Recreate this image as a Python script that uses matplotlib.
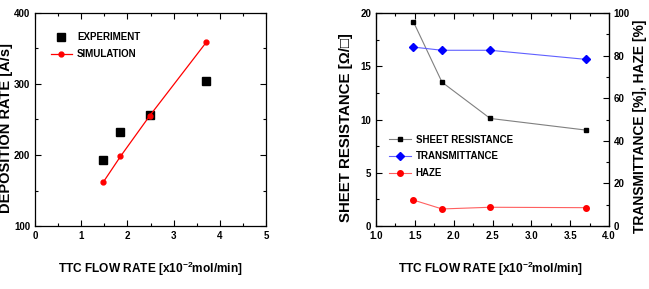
import matplotlib
matplotlib.use("Agg")
import matplotlib.pyplot as plt
from matplotlib.ticker import MultipleLocator, FormatStrFormatter
from matplotlib.lines import Line2D

plt.rcParams['font.family'] = ['Liberation Sans', 'DejaVu Sans']
plt.rcParams['font.weight'] = 'bold'
plt.rcParams['mathtext.fontset'] = 'custom'
plt.rcParams['mathtext.bf'] = 'Liberation Sans:bold'
plt.rcParams['mathtext.rm'] = 'Liberation Sans:bold'
plt.rcParams['mathtext.default'] = 'bf'

# Left panel data
flow = [1.48, 1.85, 2.48, 3.71]
exp_rate = [193, 232, 256, 304]
sim_rate = [162, 198, 255, 359]

# Right panel data
flow2 = [1.48, 1.85, 2.47, 3.71]
sheet_res = [19.2, 13.5, 10.1, 9.0]
transmittance = [84.0, 82.5, 82.5, 78.2]
haze = [12.2, 8.0, 8.8, 8.6]

xlabel = "TTC FLOW RATE [x10$^{-2}$mol/min]"

fig = plt.figure(figsize=(6.49, 2.89), dpi=100)
ax1 = fig.add_axes([35/649, 1-226/289, 231/649, 213/289])
ax2 = fig.add_axes([376/649, 1-226/289, 233/649, 213/289])

def style(ax, right=True):
    ax.tick_params(which='both', direction='in', top=True, right=right, labelsize=7, width=0.8)
    ax.tick_params(which='major', length=4)
    ax.tick_params(which='minor', length=2)
    for lab in ax.get_xticklabels() + ax.get_yticklabels():
        lab.set_fontweight('bold')
    for s in ax.spines.values():
        s.set_linewidth(0.9)

LBL = 8.6

# Left
ax1.plot(flow, sim_rate, color='red', lw=0.9, marker='o', ms=3.5, zorder=3)
ax1.plot(flow, exp_rate, ls='none', marker='s', ms=6, color='black', zorder=2)
ax1.set_xlim(0, 5)
ax1.set_ylim(100, 400)
ax1.xaxis.set_major_locator(MultipleLocator(1))
ax1.xaxis.set_minor_locator(MultipleLocator(0.5))
ax1.yaxis.set_major_locator(MultipleLocator(100))
ax1.yaxis.set_minor_locator(MultipleLocator(50))
style(ax1)
ax1.set_xlabel(xlabel, fontsize=LBL, fontweight='bold')
ax1.xaxis.set_label_coords(0.5, -0.16)
ax1.set_ylabel("DEPOSITION RATE [A/s]", fontsize=10.5, fontweight='bold')
ax1.yaxis.set_label_coords(-0.095, 0.46)
h1 = [Line2D([], [], ls='none', marker='s', ms=6, color='black'),
      Line2D([], [], color='red', lw=0.9, marker='o', ms=3.5)]
ax1.legend(h1, ['EXPERIMENT', 'SIMULATION'], loc='upper left', bbox_to_anchor=(0.03, 0.95),
           frameon=False, prop={'size': 7, 'weight': 'bold'}, handlelength=2.2,
           handletextpad=0.5, labelspacing=0.7)

# Right
ax2.plot(flow2, sheet_res, color='gray', lw=0.8, marker='s', ms=3.5, mfc='black', mec='black', zorder=3)
ax2.set_xlim(1.0, 4.0)
ax2.set_ylim(0, 20)
ax2.xaxis.set_major_locator(MultipleLocator(0.5))
ax2.xaxis.set_minor_locator(MultipleLocator(0.25))
ax2.yaxis.set_major_locator(MultipleLocator(5))
ax2.yaxis.set_minor_locator(MultipleLocator(2.5))
ax2.xaxis.set_major_formatter(FormatStrFormatter('%.1f'))
style(ax2, right=False)
ax2.set_xlabel(xlabel, fontsize=LBL, fontweight='bold')
ax2.xaxis.set_label_coords(0.49, -0.16)
ax2.set_ylabel("SHEET RESISTANCE [Ω/□]", fontsize=10.8, fontweight='bold',
               family=['Liberation Sans', 'DejaVu Sans'])
ax2.yaxis.set_label_coords(-0.10, 0.46)

ax3 = ax2.twinx()
ax3.plot(flow2, transmittance, color='#6060ff', lw=0.8, marker='D', ms=4, mfc='blue', mec='blue', zorder=3)
ax3.plot(flow2, haze, color='#ff6060', lw=0.8, marker='o', ms=4, mfc='red', mec='red', zorder=3)
ax3.set_ylim(0, 100)
ax3.yaxis.set_major_locator(MultipleLocator(20))
ax3.yaxis.set_minor_locator(MultipleLocator(10))
ax3.tick_params(which='both', direction='in', labelsize=7, width=0.8)
ax3.tick_params(which='major', length=4)
ax3.tick_params(which='minor', length=2)
for lab in ax3.get_yticklabels():
    lab.set_fontweight('bold')
ax3.set_ylabel("TRANSMITTANCE [%], HAZE [%]", fontsize=10, fontweight='bold')
ax3.yaxis.set_label_coords(1.103, 0.47)

h2 = [Line2D([], [], color='gray', lw=0.8, marker='s', ms=3.5, mfc='black', mec='black'),
      Line2D([], [], color='#6060ff', lw=0.8, marker='D', ms=4, mfc='blue', mec='blue'),
      Line2D([], [], color='#ff6060', lw=0.8, marker='o', ms=4, mfc='red', mec='red')]
ax3.legend(h2, ['SHEET RESISTANCE', 'TRANSMITTANCE', 'HAZE'], loc='upper left',
           bbox_to_anchor=(0.02, 0.47), frameon=False, prop={'size': 7, 'weight': 'bold'},
           handlelength=2.2, handletextpad=0.5, labelspacing=0.7)

fig.savefig("out.png", dpi=100)
